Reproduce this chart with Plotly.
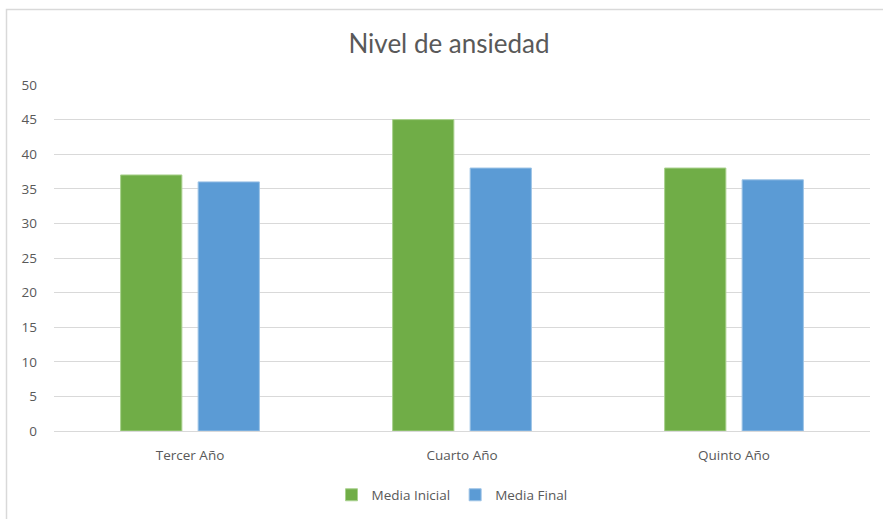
import plotly.graph_objects as go

categories = ["Tercer Año", "Cuarto Año", "Quinto Año"]
media_inicial = [37, 45, 38]
media_final = [36, 38, 36.3]
y_ticks = [0, 5, 10, 15, 20, 25, 30, 35, 40, 45, 50]

W, H = 883, 519
L, R, T, B = 54, 13, 85, 88
pw, ph = W - L - R, H - T - B

def px_x(x):
    return (x - L) / pw

def px_y(y):
    return (H - B - y) / ph

fig = go.Figure()
fig.add_trace(go.Bar(name="Media Inicial", x=categories, y=media_inicial,
                     marker=dict(color="#70AD47", line=dict(color="#A9D18E", width=1))))
fig.add_trace(go.Bar(name="Media Final", x=categories, y=media_final,
                     marker=dict(color="#5B9BD5", line=dict(color="#9DC3E6", width=1))))

title_font = "Lato, sans-serif"
label_font = "'Open Sans', sans-serif"

fig.update_layout(
    width=W, height=H,
    margin=dict(l=L, r=R, t=T, b=B, autoexpand=False),
    paper_bgcolor="white", plot_bgcolor="white",
    barmode="group", bargap=0.43, bargroupgap=0.21,
    title=dict(text="Nivel de ansiedad", x=449 / W, xanchor="center",
               y=1 - 44 / H, yanchor="middle",
               font=dict(family=title_font, size=26, color="#595959")),
    xaxis=dict(showgrid=False, showline=False, ticks="", ticklabelstandoff=14,
               automargin=False,
               tickfont=dict(family=label_font, size=13.5, color="#595959")),
    yaxis=dict(range=[0, 50], tickvals=y_ticks, showgrid=True, gridcolor="#D9D9D9",
               gridwidth=1, zeroline=True, zerolinecolor="#D9D9D9", zerolinewidth=1,
               ticks="", ticklabelstandoff=16, automargin=False,
               tickfont=dict(family=label_font, size=13.5, color="#595959")),
    legend=dict(orientation="h", x=px_x(452), xanchor="center",
                y=px_y(495), yanchor="middle",
                font=dict(family=label_font, size=13.5, color="#595959"),
                itemwidth=30, traceorder="normal"),
    showlegend=True,
    shapes=[
        dict(type="rect", xref="paper", yref="paper",
             x0=px_x(6.5), x1=px_x(900), y0=px_y(540), y1=px_y(9.5),
             line=dict(color="#D9D9D9", width=1.5), fillcolor="rgba(0,0,0,0)", layer="below"),
    ],
)

fig.write_html("out.html")
